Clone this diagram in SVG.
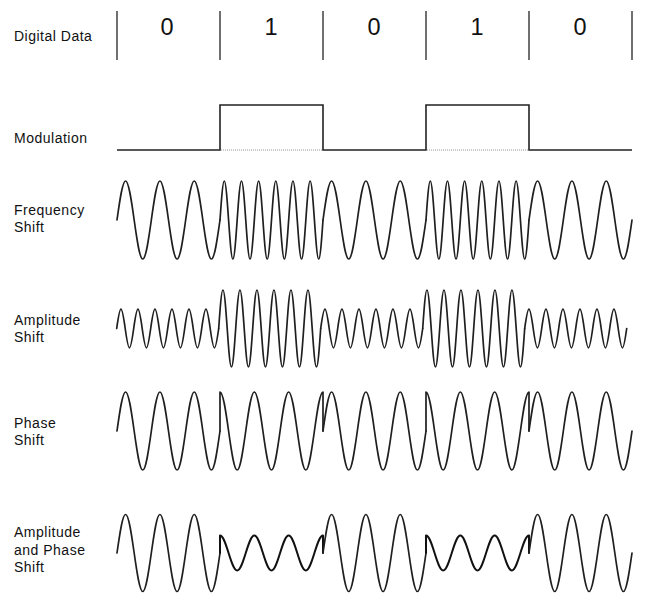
<svg xmlns="http://www.w3.org/2000/svg" xmlns:xlink="http://www.w3.org/1999/xlink" width="659" height="601" viewBox="0 0 659 601">
<style>
  .lbl { font-family: "Liberation Sans", Arial, sans-serif; font-size: 14px; letter-spacing: 0.5px; fill: #111; }
  .bit { font-family: "Liberation Sans", Arial, sans-serif; font-size: 23.5px; fill: #111; text-anchor: middle; }
  .div { stroke: #707070; stroke-width: 2; fill: none; }
  .mod { stroke: #222; stroke-width: 1.6; fill: none; }
  .dot { stroke: #999; stroke-width: 1; stroke-dasharray: 1 1; fill: none; }
  .wave { stroke: #1f1f1f; stroke-width: 1.7; fill: none; stroke-linecap: round; stroke-linejoin: round; }
  .bold { stroke: #111; stroke-width: 2; }
</style>
<defs>
  <path id="fsk0" d="M0,0 c2.801,-19.99 5.491,-39 8.583,-39 c3.093,0 5.783,19.01 8.583,39 c2.801,19.99 5.491,39 8.583,39 c3.093,0 5.783,-19.01 8.583,-39 c2.801,-19.99 5.491,-39 8.583,-39 c3.093,0 5.783,19.01 8.583,39 c2.801,19.99 5.491,39 8.583,39 c3.093,0 5.783,-19.01 8.583,-39 c2.801,-19.99 5.491,-39 8.583,-39 c3.093,0 5.783,19.01 8.583,39 c2.801,19.99 5.491,39 8.583,39 c3.093,0 5.783,-19.01 8.583,-39"/>
  <path id="fsk1" d="M0,0 c1.4,-19.99 2.745,-39 4.292,-39 c1.546,0 2.891,19.01 4.292,39 c1.4,19.99 2.745,39 4.292,39 c1.546,0 2.891,-19.01 4.292,-39 c1.4,-19.99 2.745,-39 4.292,-39 c1.546,0 2.891,19.01 4.292,39 c1.4,19.99 2.745,39 4.292,39 c1.546,0 2.891,-19.01 4.292,-39 c1.4,-19.99 2.745,-39 4.292,-39 c1.546,0 2.891,19.01 4.292,39 c1.4,19.99 2.745,39 4.292,39 c1.546,0 2.891,-19.01 4.292,-39 c1.4,-19.99 2.745,-39 4.292,-39 c1.546,0 2.891,19.01 4.292,39 c1.4,19.99 2.745,39 4.292,39 c1.546,0 2.891,-19.01 4.292,-39 c1.4,-19.99 2.745,-39 4.292,-39 c1.546,0 2.891,19.01 4.292,39 c1.4,19.99 2.745,39 4.292,39 c1.546,0 2.891,-19.01 4.292,-39 c1.4,-19.99 2.745,-39 4.292,-39 c1.546,0 2.891,19.01 4.292,39 c1.4,19.99 2.745,39 4.292,39 c1.546,0 2.891,-19.01 4.292,-39"/>
  <path id="ask0" d="M0,0 c1.387,-9.89 2.719,-19.3 4.25,-19.3 c1.531,0 2.863,9.41 4.25,19.3 c1.387,9.89 2.719,19.3 4.25,19.3 c1.531,0 2.863,-9.41 4.25,-19.3 c1.387,-9.89 2.719,-19.3 4.25,-19.3 c1.531,0 2.863,9.41 4.25,19.3 c1.387,9.89 2.719,19.3 4.25,19.3 c1.531,0 2.863,-9.41 4.25,-19.3 c1.387,-9.89 2.719,-19.3 4.25,-19.3 c1.531,0 2.863,9.41 4.25,19.3 c1.387,9.89 2.719,19.3 4.25,19.3 c1.531,0 2.863,-9.41 4.25,-19.3 c1.387,-9.89 2.719,-19.3 4.25,-19.3 c1.531,0 2.863,9.41 4.25,19.3 c1.387,9.89 2.719,19.3 4.25,19.3 c1.531,0 2.863,-9.41 4.25,-19.3 c1.387,-9.89 2.719,-19.3 4.25,-19.3 c1.531,0 2.863,9.41 4.25,19.3 c1.387,9.89 2.719,19.3 4.25,19.3 c1.531,0 2.863,-9.41 4.25,-19.3 c1.387,-9.89 2.719,-19.3 4.25,-19.3 c1.531,0 2.863,9.41 4.25,19.3 c1.387,9.89 2.719,19.3 4.25,19.3 c1.531,0 2.863,-9.41 4.25,-19.3"/>
  <path id="ask1" d="M0,0 c1.387,-19.73 2.719,-38.5 4.25,-38.5 c1.531,0 2.863,18.77 4.25,38.5 c1.387,19.73 2.719,38.5 4.25,38.5 c1.531,0 2.863,-18.77 4.25,-38.5 c1.387,-19.73 2.719,-38.5 4.25,-38.5 c1.531,0 2.863,18.77 4.25,38.5 c1.387,19.73 2.719,38.5 4.25,38.5 c1.531,0 2.863,-18.77 4.25,-38.5 c1.387,-19.73 2.719,-38.5 4.25,-38.5 c1.531,0 2.863,18.77 4.25,38.5 c1.387,19.73 2.719,38.5 4.25,38.5 c1.531,0 2.863,-18.77 4.25,-38.5 c1.387,-19.73 2.719,-38.5 4.25,-38.5 c1.531,0 2.863,18.77 4.25,38.5 c1.387,19.73 2.719,38.5 4.25,38.5 c1.531,0 2.863,-18.77 4.25,-38.5 c1.387,-19.73 2.719,-38.5 4.25,-38.5 c1.531,0 2.863,18.77 4.25,38.5 c1.387,19.73 2.719,38.5 4.25,38.5 c1.531,0 2.863,-18.77 4.25,-38.5 c1.387,-19.73 2.719,-38.5 4.25,-38.5 c1.531,0 2.863,18.77 4.25,38.5 c1.387,19.73 2.719,38.5 4.25,38.5 c1.531,0 2.863,-18.77 4.25,-38.5"/>
  <path id="psk1" d="M0,0 v-39 c3.093,0 5.783,19.01 8.583,39 c2.801,19.99 5.491,39 8.583,39 c3.093,0 5.783,-19.01 8.583,-39 c2.801,-19.99 5.491,-39 8.583,-39 c3.093,0 5.783,19.01 8.583,39 c2.801,19.99 5.491,39 8.583,39 c3.093,0 5.783,-19.01 8.583,-39 c2.801,-19.99 5.491,-39 8.583,-39 c3.093,0 5.783,19.01 8.583,39 c2.801,19.99 5.491,39 8.583,39 c3.093,0 5.783,-19.01 8.583,-39 c2.801,-19.99 5.491,-39 8.583,-39 v39"/>
  <path id="qam0" d="M0,0 c2.801,-19.73 5.491,-38.5 8.583,-38.5 c3.093,0 5.783,18.77 8.583,38.5 c2.801,19.73 5.491,38.5 8.583,38.5 c3.093,0 5.783,-18.77 8.583,-38.5 c2.801,-19.73 5.491,-38.5 8.583,-38.5 c3.093,0 5.783,18.77 8.583,38.5 c2.801,19.73 5.491,38.5 8.583,38.5 c3.093,0 5.783,-18.77 8.583,-38.5 c2.801,-19.73 5.491,-38.5 8.583,-38.5 c3.093,0 5.783,18.77 8.583,38.5 c2.801,19.73 5.491,38.5 8.583,38.5 c3.093,0 5.783,-18.77 8.583,-38.5"/>
  <path id="qam1" d="M0,0 v-17.5 c3.093,0 5.783,8.53 8.583,17.5 c2.801,8.97 5.491,17.5 8.583,17.5 c3.093,0 5.783,-8.53 8.583,-17.5 c2.801,-8.97 5.491,-17.5 8.583,-17.5 c3.093,0 5.783,8.53 8.583,17.5 c2.801,8.97 5.491,17.5 8.583,17.5 c3.093,0 5.783,-8.53 8.583,-17.5 c2.801,-8.97 5.491,-17.5 8.583,-17.5 c3.093,0 5.783,8.53 8.583,17.5 c2.801,8.97 5.491,17.5 8.583,17.5 c3.093,0 5.783,-8.53 8.583,-17.5 c2.801,-8.97 5.491,-17.5 8.583,-17.5 v17.5"/>
</defs>
<rect width="659" height="601" fill="#ffffff"/>

<g id="digital-data">
  <text class="lbl" x="14" y="41">Digital Data</text>
  <g class="div">
    <line x1="117" y1="11" x2="117" y2="60"/>
    <line x1="220" y1="11" x2="220" y2="60"/>
    <line x1="323" y1="11" x2="323" y2="60"/>
    <line x1="426" y1="11" x2="426" y2="60"/>
    <line x1="529" y1="11" x2="529" y2="60"/>
    <line x1="632" y1="11" x2="632" y2="60"/>
  </g>
  <text class="bit" x="167" y="35">0</text>
  <text class="bit" x="271" y="35">1</text>
  <text class="bit" x="374" y="35">0</text>
  <text class="bit" x="477" y="35">1</text>
  <text class="bit" x="580" y="35">0</text>
</g>

<g id="modulation">
  <text class="lbl" x="14" y="143">Modulation</text>
  <path class="dot" d="M221,150 H322 M427,150 H528"/>
  <path class="mod" d="M117,150 H220 V105 H323 V150 H426 V105 H529 V150 H632"/>
</g>

<g id="frequency-shift">
  <text class="lbl" x="14" y="215">Frequency</text>
  <text class="lbl" x="14" y="232">Shift</text>
  <g class="wave">
    <use xlink:href="#fsk0" x="117" y="220"/>
    <use xlink:href="#fsk1" x="220" y="220"/>
    <use xlink:href="#fsk0" x="323" y="220"/>
    <use xlink:href="#fsk1" x="426" y="220"/>
    <use xlink:href="#fsk0" x="529" y="220"/>
  </g>
</g>

<g id="amplitude-shift">
  <text class="lbl" x="14" y="324.5">Amplitude</text>
  <text class="lbl" x="14" y="341.5">Shift</text>
  <g class="wave">
    <use xlink:href="#ask0" x="116.7" y="328.5"/>
    <use xlink:href="#ask1" x="218.7" y="328.5"/>
    <use xlink:href="#ask0" x="320.7" y="328.5"/>
    <use xlink:href="#ask1" x="422.7" y="328.5"/>
    <use xlink:href="#ask0" x="524.7" y="328.5"/>
  </g>
</g>

<g id="phase-shift">
  <text class="lbl" x="14" y="427.5">Phase</text>
  <text class="lbl" x="14" y="445">Shift</text>
  <g class="wave">
    <use xlink:href="#fsk0" x="117" y="431"/>
    <use xlink:href="#psk1" x="220" y="431"/>
    <use xlink:href="#fsk0" x="323" y="431"/>
    <use xlink:href="#psk1" x="426" y="431"/>
    <use xlink:href="#fsk0" x="529" y="431"/>
  </g>
</g>

<g id="amplitude-and-phase-shift">
  <text class="lbl" x="14" y="537">Amplitude</text>
  <text class="lbl" x="14" y="554.5">and Phase</text>
  <text class="lbl" x="14" y="572">Shift</text>
  <g class="wave">
    <use xlink:href="#qam0" x="117" y="553"/>
    <use class="bold" xlink:href="#qam1" x="220" y="553"/>
    <use xlink:href="#qam0" x="323" y="553"/>
    <use class="bold" xlink:href="#qam1" x="426" y="553"/>
    <use xlink:href="#qam0" x="529" y="553"/>
  </g>
</g>
</svg>
